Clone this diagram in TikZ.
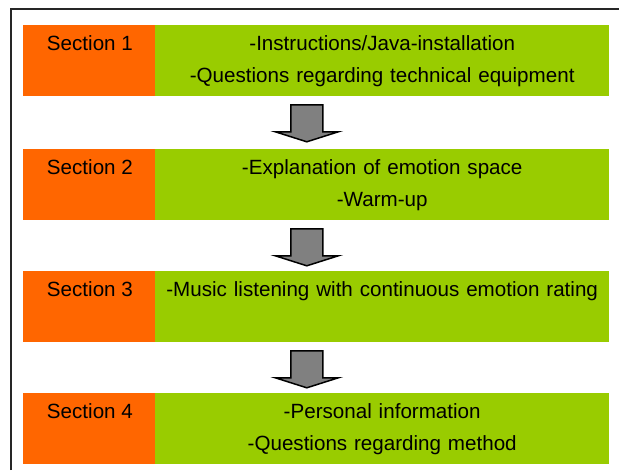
\documentclass[tikz,border=0pt]{standalone}
\usepackage{fontspec}
\setmainfont{Liberation Sans}
\usetikzlibrary{calc}
\definecolor{secorange}{RGB}{255,102,0}
\definecolor{secgreen}{RGB}{153,204,0}
\definecolor{arrowgray}{RGB}{128,128,128}
\begin{document}
\begin{tikzpicture}[x=0.5pt,y=-0.5pt,
  secbox/.style={fill=secorange,anchor=north west,inner xsep=0pt,inner ysep=0pt,
    minimum width=66.5pt,text height=12.6pt,text depth=22.9pt,
    font=\fontsize{10.3pt}{16pt}\selectfont},
  txtbox/.style={fill=secgreen,anchor=north west,xshift=-1pt,
    inner xsep=0pt,inner ysep=0pt,text width=227pt,align=center,
    text height=12.6pt,text depth=22.9pt,
    font=\fontsize{10.3pt}{15.75pt}\selectfont},
  blockarrow/.style={fill=arrowgray,draw=black,line width=0.75pt,line join=miter}]
\useasboundingbox (0,0) rectangle (619,470);
\draw [line width=1pt,black!85] (11,470) -- (11,9) -- (619,9);
\node [secbox] (sec1) at (23,25) {Section 1};
\node [txtbox] (txt1) at (sec1.north east) {-Instructions/Java-installation\\-Questions regarding technical equipment};
\node [secbox] (sec2) at (23,149) {Section 2};
\node [txtbox] (txt2) at (sec2.north east) {-Explanation of emotion space\\-Warm-up};
\node [secbox] (sec3) at (23,271) {Section 3};
\node [txtbox] (txt3) at (sec3.north east) {-Music listening with continuous emotion rating};
\node [secbox] (sec4) at (23,393) {Section 4};
\node [txtbox] (txt4) at (sec4.north east) {-Personal information\\-Questions regarding method};
\foreach \i in {1,2,3}
  \draw [blockarrow] ($(txt\i.south west)+(136,8)$) -- ++(32,0) -- ++(0,27) -- ++(15.5,0)
    -- ++(-31.5,10) -- ++(-31.5,-10) -- ++(15.5,0) -- cycle;
\end{tikzpicture}
\end{document}
